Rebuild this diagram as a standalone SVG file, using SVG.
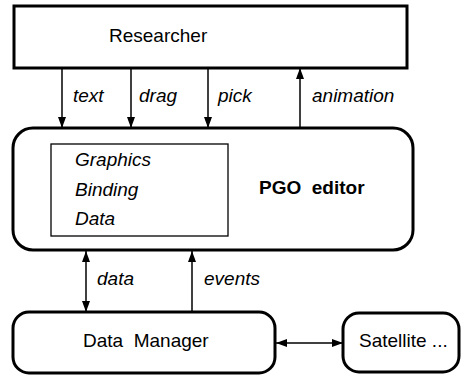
<svg xmlns="http://www.w3.org/2000/svg" width="462" height="376" viewBox="0 0 462 376">
<style>
.box{fill:#fff;stroke:#000;stroke-width:3}
.inner{fill:#fff;stroke:#000;stroke-width:1.3}
.t{font-family:"Liberation Sans",Arial,sans-serif;font-size:19px;fill:#000}
.i{font-style:italic}
.b{font-weight:bold}
.c{stroke:#000;stroke-width:1.5;fill:none}
</style>
<defs>
<marker id="ah" viewBox="0 0 11 8" refX="11" refY="4" markerWidth="11" markerHeight="8" markerUnits="userSpaceOnUse" orient="auto-start-reverse">
<path d="M0,0 L11,4 L0,8 Z" fill="#000"/>
</marker>
</defs>
<g id="connectors">
<line class="c" x1="62" y1="68" x2="62" y2="128" marker-end="url(#ah)"/>
<line class="c" x1="131" y1="68" x2="131" y2="128" marker-end="url(#ah)"/>
<line class="c" x1="208" y1="68" x2="208" y2="128" marker-end="url(#ah)"/>
<line class="c" x1="300" y1="128" x2="300" y2="68" marker-end="url(#ah)"/>
<line class="c" x1="86" y1="251" x2="86" y2="312" marker-start="url(#ah)" marker-end="url(#ah)"/>
<line class="c" x1="192" y1="312" x2="192" y2="251" marker-end="url(#ah)"/>
<line class="c" x1="276" y1="343" x2="343" y2="343" marker-start="url(#ah)" marker-end="url(#ah)"/>
<text class="t i" x="73" y="102">text</text>
<text class="t i" x="139" y="102">drag</text>
<text class="t i" x="218" y="102">pick</text>
<text class="t i" x="312" y="102">animation</text>
<text class="t i" x="97" y="285">data</text>
<text class="t i" x="204" y="285">events</text>
</g>
<g id="researcher">
<rect class="box" x="14" y="6" width="393" height="62"/>
<text class="t" x="109" y="42">Researcher</text>
</g>
<g id="pgo-editor">
<rect class="box" x="13" y="128" width="400" height="122" rx="20" ry="20"/>
<rect class="inner" x="51" y="144" width="177" height="92"/>
<text class="t i" x="75" y="166">Graphics</text>
<text class="t i" x="75" y="196">Binding</text>
<text class="t i" x="75" y="225">Data</text>
<text class="t b" x="259" y="194" xml:space="preserve">PGO  editor</text>
</g>
<g id="data-manager">
<rect class="box" x="13" y="312" width="262" height="61" rx="16" ry="16"/>
<text class="t" x="83" y="347" xml:space="preserve">Data  Manager</text>
</g>
<g id="satellite">
<rect class="box" x="343" y="313" width="116" height="59" rx="16" ry="16"/>
<text class="t" x="359" y="347">Satellite ...</text>
</g>
</svg>
